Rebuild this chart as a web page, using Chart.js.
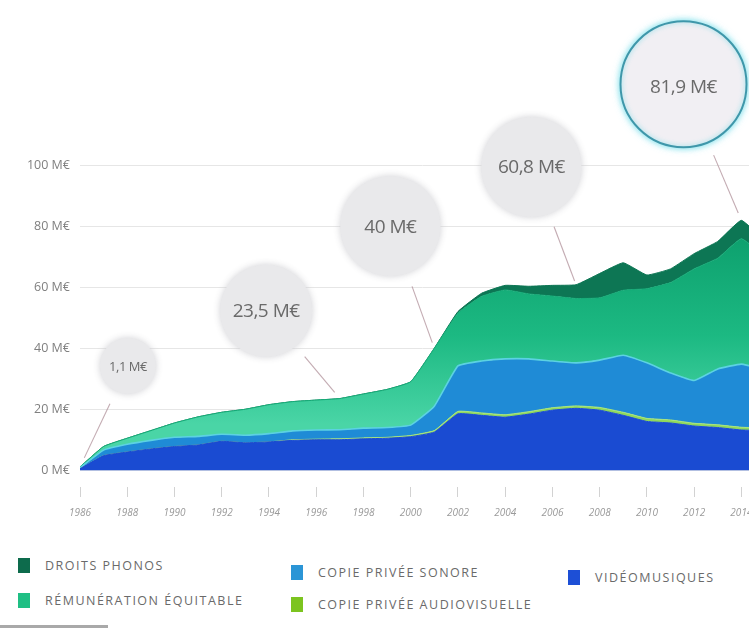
<!DOCTYPE html>
<html lang="fr">
<head>
<meta charset="utf-8">
<title>Droits perçus 1986–2015</title>
<script src="https://cdn.jsdelivr.net/npm/chart.js@4.4.1/dist/chart.umd.min.js"></script>
<style>
  html, body { margin: 0; padding: 0; background: #fff; }
  body { width: 749px; height: 630px; overflow: hidden; position: relative; font-family: "Open Sans", sans-serif; }
  #chart { position: absolute; left: 0; top: 0; }
  .legend-item { position: absolute; display: flex; align-items: center; color: #6a6a6a; font-size: 12.5px; letter-spacing: 1.5px; white-space: nowrap; }
  .legend-item i { display: inline-block; width: 12px; height: 15px; margin-right: 15px; }
  .rule { position: absolute; left: 0; top: 625px; width: 108px; height: 3px; background: #a9a9a9; }
</style>
</head>
<body>
<canvas id="chart" width="765" height="540"></canvas>
<div id="legend"></div>
<div class="rule"></div>
<script>
// Années de perception
const years = [1986, 1987, 1988, 1989, 1990, 1991, 1992, 1993, 1994, 1995,
               1996, 1997, 1998, 1999, 2000, 2001, 2002, 2003, 2004, 2005,
               2006, 2007, 2008, 2009, 2010, 2011, 2012, 2013, 2014, 2015];

// Montants par source, en millions d'euros (empilés de bas en haut)
const videomusiques = [0.5, 4.8, 6.0, 7.0, 7.8, 8.3, 9.5, 9.0, 9.3, 9.8,
                       10.0, 10.0, 10.3, 10.5, 11.0, 12.5, 18.5, 18.0, 17.4, 18.4,
                       19.7, 20.3, 19.7, 18.0, 16.0, 15.5, 14.5, 14.0, 13.2, 13.0];
const copiePriveeAudiovisuelle = [0, 0, 0, 0, 0, 0, 0, 0, 0, 0.2,
                                  0.2, 0.3, 0.3, 0.3, 0.4, 0.5, 0.8, 0.8, 0.8, 0.8,
                                  0.8, 0.8, 0.9, 1.0, 1.0, 1.0, 0.9, 0.9, 0.9, 0.9];
const copiePriveeSonore = [0.3, 1.8, 2.5, 2.8, 3.0, 2.8, 2.3, 2.5, 2.7, 2.9,
                           3.0, 3.0, 3.2, 3.2, 3.4, 8.0, 14.9, 17.0, 18.3, 17.3,
                           15.3, 14.1, 15.5, 18.7, 18.2, 15.4, 14.0, 18.3, 20.7, 19.0];
const remunerationEquitable = [0.3, 1.2, 2.0, 3.2, 4.7, 6.4, 7.2, 8.5, 9.5, 9.6,
                               9.8, 10.2, 11.2, 12.5, 14.2, 19.0, 17.3, 21.2, 22.6, 21.3,
                               21.3, 21.1, 20.4, 21.3, 24.3, 29.6, 36.6, 36.3, 41.1, 37.1];
const droitsPhonos = [0, 0, 0, 0, 0, 0, 0, 0, 0, 0,
                      0, 0, 0, 0, 0, 0, 0.5, 1.0, 1.5, 2.5,
                      3.5, 4.5, 8.0, 9.0, 4.5, 4.5, 5.0, 5.5, 6.0, 5.0];

// Graduations
const yTicks = [0, 20, 40, 60, 80, 100];
const xTicks = [1986, 1988, 1990, 1992, 1994, 1996, 1998, 2000, 2002, 2004, 2006, 2008, 2010, 2012, 2014];

// Séries (ordre d'empilement) et couleurs de légende
const series = [
  { label: 'VIDÉOMUSIQUES', data: videomusiques, fill: '#1a4bd2', line: '#1a4bd2', key: '#1d4fd6' },
  { label: 'COPIE PRIVÉE AUDIOVISUELLE', data: copiePriveeAudiovisuelle, fill: '#8fd85c', line: '#a8e47c', key: '#7cc41f' },
  { label: 'COPIE PRIVÉE SONORE', data: copiePriveeSonore, fill: '#1f8bd6', line: '#5cd2e2', key: '#2b95d6' },
  { label: 'RÉMUNÉRATION ÉQUITABLE', data: remunerationEquitable, fill: 'gradient', line: '#16aa77', key: '#1fbf84' },
  { label: 'DROITS PHONOS', data: droitsPhonos, fill: '#0d7654', line: '#0d7654', key: '#0d6b4c' }
];

// Bulles de montant total : année pointée, centre (en unités d'axe), rayon et corps du texte
const callouts = [
  { year: 1986, cx: 1988.03, cy: 34.2, r: 28, size: 13, gap: 10, dy: 1, ring: false },
  { year: 1997, cx: 1993.88, cy: 52.3, r: 46, size: 19, gap: 8, dy: 1, ring: false },
  { year: 2001, cx: 1999.14, cy: 80.0, r: 50, size: 19, gap: 6, dy: 1, ring: false },
  { year: 2007, cx: 2005.11, cy: 99.4, r: 50, size: 19, gap: 4, dy: 1, ring: false },
  { year: 2014, cx: 2011.55, cy: 126.5, r: 63, size: 19, gap: 8, dy: 3, ring: true }
];

function stackTotal(i) {
  return series.reduce((s, d) => s + d.data[i], 0);
}
function formatME(v) {
  const r = Math.round(v * 10) / 10;
  return String(r).replace('.', ',') + ' M€';
}

// Échelle verticale : zéro à 470 px, 3,1 px par million
const PLOT_TOP = 10, PLOT_BOTTOM = 487, ZERO_Y = 470, PX_PER_M = 3.1;
const Y_MAX = (ZERO_Y - PLOT_TOP) / PX_PER_M;
const Y_MIN = -(PLOT_BOTTOM - ZERO_Y) / PX_PER_M;

function greenFill(ctx) {
  const chart = ctx.chart;
  const y = chart.scales.y;
  if (!chart.chartArea || !y) return '#17b07a';
  const g = chart.ctx.createLinearGradient(0, y.getPixelForValue(80), 0, y.getPixelForValue(15));
  g.addColorStop(0, '#0c9e6c');
  g.addColorStop(0.55, '#1cb982');
  g.addColorStop(1, '#4ad5a6');
  return g;
}

const calloutPlugin = {
  id: 'totalCallouts',
  afterDatasetsDraw(chart) {
    const { ctx } = chart;
    const x = chart.scales.x, y = chart.scales.y;
    callouts.forEach(b => {
      const i = years.indexOf(b.year);
      const total = stackTotal(i);
      const ax = x.getPixelForValue(b.year), ay = y.getPixelForValue(total);
      const cx = x.getPixelForValue(b.cx), cy = y.getPixelForValue(b.cy);
      const dx = ax - cx, dy = ay - cy, d = Math.hypot(dx, dy);
      const ux = dx / d, uy = dy / d;
      ctx.save();
      // trait de rappel
      ctx.strokeStyle = 'rgba(170,135,145,0.7)';
      ctx.lineWidth = 1.1;
      ctx.beginPath();
      ctx.moveTo(cx + ux * (b.r + 14), cy + uy * (b.r + 14));
      ctx.lineTo(ax - ux * b.gap, ay - uy * b.gap);
      ctx.stroke();
      // disque
      ctx.shadowColor = b.ring ? 'rgba(90,215,230,0.75)' : 'rgba(205,205,210,0.95)';
      ctx.shadowBlur = b.ring ? 8 : 7;
      ctx.fillStyle = b.ring ? '#f1eff3' : '#e9e9eb';
      ctx.beginPath();
      ctx.arc(cx, cy, b.r, 0, Math.PI * 2);
      ctx.fill();
      if (b.ring) {
        ctx.shadowBlur = 5;
        ctx.strokeStyle = '#3f97aa';
        ctx.lineWidth = 2;
        ctx.stroke();
      }
      ctx.shadowColor = 'transparent';
      ctx.shadowBlur = 0;
      // montant
      ctx.fillStyle = '#6a6a6a';
      ctx.font = b.size + 'px "Open Sans"';
      if ('letterSpacing' in ctx) ctx.letterSpacing = '-0.5px';
      ctx.textAlign = 'center';
      ctx.textBaseline = 'middle';
      ctx.fillText(formatME(total), cx, cy + b.dy);
      ctx.restore();
    });
  }
};

new Chart(document.getElementById('chart'), {
  type: 'line',
  data: {
    labels: years,
    datasets: series.map((s, k) => ({
      label: s.label,
      data: years.map((yr, i) => ({ x: yr, y: s.data[i] })),
      backgroundColor: s.fill === 'gradient' ? greenFill : s.fill,
      borderColor: s.line,
      borderWidth: k === 2 ? 1.6 : 1,
      fill: k === 0 ? 'origin' : '-1',
      pointRadius: 0,
      tension: 0.12
    }))
  },
  options: {
    responsive: false,
    animation: false,
    events: [],
    layout: { padding: { top: PLOT_TOP, left: 0, right: 0, bottom: 0 } },
    plugins: { legend: { display: false }, tooltip: { enabled: false } },
    scales: {
      x: {
        type: 'linear',
        min: years[0],
        max: years[years.length - 1],
        afterBuildTicks(scale) { scale.ticks = xTicks.map(v => ({ value: v })); },
        afterFit(scale) { scale.height = 540 - PLOT_BOTTOM; },
        border: { display: false },
        grid: { drawOnChartArea: false, drawTicks: true, tickLength: 10, color: '#d2d2d2' },
        ticks: {
          autoSkip: false, maxRotation: 0, padding: 10,
          color: '#9a9a9a',
          font: { family: 'Open Sans', size: 10, style: 'italic' },
          callback: v => String(v)
        }
      },
      y: {
        stacked: true,
        min: Y_MIN,
        max: Y_MAX,
        afterBuildTicks(scale) { scale.ticks = yTicks.map(v => ({ value: v })); },
        afterFit(scale) { scale.width = 80; },
        border: { display: false },
        grid: { color: '#e6e6e6', drawTicks: false },
        ticks: {
          padding: 10,
          color: '#808080',
          font: { family: 'Open Sans', size: 12.5 },
          callback: v => v + ' M€'
        }
      }
    }
  },
  plugins: [calloutPlugin]
});

// Légende en trois colonnes
const legendPlaces = {
  'DROITS PHONOS': [18, 557],
  'RÉMUNÉRATION ÉQUITABLE': [18, 592],
  'COPIE PRIVÉE SONORE': [291, 564],
  'COPIE PRIVÉE AUDIOVISUELLE': [291, 596],
  'VIDÉOMUSIQUES': [568, 569]
};
const legend = document.getElementById('legend');
series.slice().reverse().forEach(s => {
  const [left, top] = legendPlaces[s.label];
  const item = document.createElement('div');
  item.className = 'legend-item';
  item.style.left = left + 'px';
  item.style.top = top + 'px';
  const sw = document.createElement('i');
  sw.style.background = s.key;
  const txt = document.createElement('span');
  txt.textContent = s.label;
  item.appendChild(sw);
  item.appendChild(txt);
  legend.appendChild(item);
});
</script>
</body>
</html>
